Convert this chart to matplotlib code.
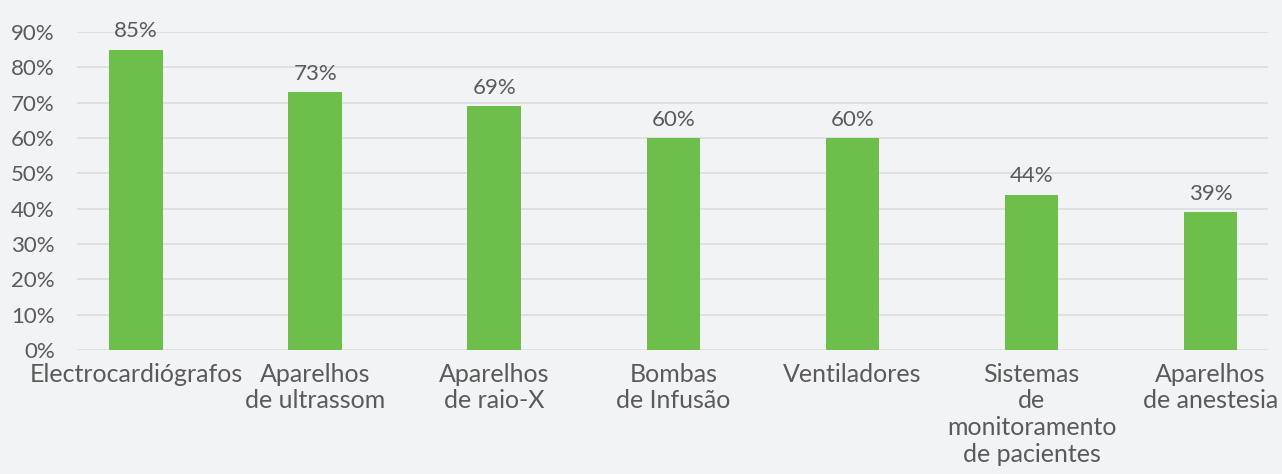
import matplotlib.pyplot as plt
from matplotlib.ticker import PercentFormatter

categories = ['Electrocardiógrafos', 'Aparelhos\nde ultrassom', 'Aparelhos\nde raio-X',
              'Bombas\nde Infusão', 'Ventiladores', 'Sistemas\nde\nmonitoramento\nde pacientes',
              'Aparelhos\nde anestesia']
values = [85, 73, 69, 60, 60, 44, 39]
yticks = [0, 10, 20, 30, 40, 50, 60, 70, 80, 90]

bg = '#f2f3f5'
txt = '#5a5a5a'
plt.rcParams['font.family'] = ['Lato', 'DejaVu Sans']

fig = plt.figure(figsize=(12.82, 4.74), dpi=100, facecolor=bg)
ax = fig.add_axes([0.0601, 0.2616, 0.9289, 0.6709], facecolor=bg)

x = range(len(categories))
bars = ax.bar(x, values, width=0.30, color='#6dbe4b', zorder=3)
for b, v in zip(bars, values):
    ax.annotate(f'{v}%', (b.get_x() + b.get_width() / 2, v), xytext=(0, 6),
                textcoords='offset points', ha='center', va='bottom',
                fontsize=16, color=txt, annotation_clip=False)

ax.set_xlim(-0.33, 6.32)
ax.set_ylim(0, 90)
ax.set_yticks(yticks)
ax.yaxis.set_major_formatter(PercentFormatter(decimals=0))
ax.set_xticks(list(x))
ax.set_xticklabels(categories, linespacing=1.2, fontsize=18)
ax.tick_params(axis='both', length=0, labelcolor=txt)
ax.tick_params(axis='y', pad=16, labelsize=16)
ax.tick_params(axis='x', pad=9)
ax.grid(axis='y', color='#dcdde0', linewidth=1.2, zorder=0)
for s in ax.spines.values():
    s.set_visible(False)

fig.savefig('out.png', dpi=100, facecolor=bg)
